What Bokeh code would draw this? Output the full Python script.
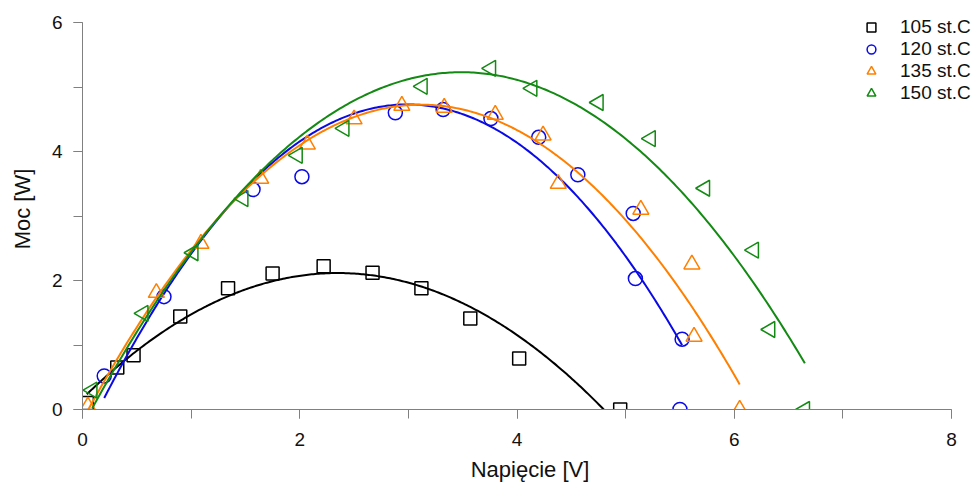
import math
import numpy as np
from bokeh.plotting import figure
from bokeh.models import (Range1d, SingleIntervalTicker, Legend, LegendItem)
from bokeh.embed import file_html
from bokeh.resources import INLINE

# ---- data ----
series_names = ["105 st.C", "120 st.C", "135 st.C", "150 st.C"]

v105 = [0.04, 0.32, 0.47, 0.90, 1.34, 1.75, 2.22, 2.67, 3.12, 3.57, 4.02, 4.95]
p105 = [0.10, 0.65, 0.84, 1.44, 1.88, 2.11, 2.22, 2.12, 1.88, 1.41, 0.79, 0.00]

v120 = [0.20, 0.75, 1.57, 2.02, 2.88, 3.32, 3.76, 4.20, 4.56, 5.07, 5.09, 5.52, 5.50]
p120 = [0.52, 1.75, 3.41, 3.61, 4.60, 4.65, 4.51, 4.22, 3.64, 3.04, 2.03, 1.09, 0.00]

v135 = [0.05, 0.68, 1.09, 1.64, 2.07, 2.50, 2.94, 3.33, 3.80, 4.24, 4.38, 5.14, 5.61, 5.63, 6.05]
p135 = [0.05, 1.81, 2.57, 3.58, 4.11, 4.50, 4.71, 4.68, 4.57, 4.25, 3.50, 3.10, 2.25, 1.13, 0.00]

v150 = [0.09, 0.56, 1.02, 1.48, 1.98, 2.41, 3.13, 3.76, 4.14, 4.75, 5.23, 5.73, 6.18, 6.33, 6.65]
p150 = [0.30, 1.49, 2.43, 3.27, 3.94, 4.36, 5.01, 5.29, 4.98, 4.76, 4.20, 3.43, 2.47, 1.24, 0.00]

x_ticks = [0, 2, 4, 6, 8]
y_ticks = [0, 2, 4, 6]

colors = ["#000000", "#0a0ae6", "#ff8000", "#138a13"]
markers = ["square", "circle", "triangle", "triangle"]
angles = [0, 0, 0, math.pi / 2]
sizes = [13, 14, 16, 16]

FONT = "Liberation Sans"

FRAME_W = 895
FRAME_H = 401
PX_PER_X = 869 / 8.0
PX_PER_Y = 387 / 6.0

p = figure(width=977, height=482, output_backend="svg", toolbar_location=None,
           x_range=Range1d(0, FRAME_W / PX_PER_X),
           y_range=Range1d(0, FRAME_H / PX_PER_Y),
           frame_width=FRAME_W, frame_height=FRAME_H,
           min_border_left=82, min_border_right=0, min_border_top=8,
           min_border_bottom=73)
p.outline_line_color = None
p.grid.visible = False
p.background_fill_color = "white"
p.border_fill_color = "white"

for ax, ticks in ((p.xaxis, x_ticks), (p.yaxis, y_ticks)):
    ax.ticker = SingleIntervalTicker(interval=ticks[1] - ticks[0], num_minor_ticks=2)
    ax.bounds = (ticks[0], ticks[-1])
    ax.axis_line_color = "#808080"
    ax.major_tick_line_color = "#808080"
    ax.minor_tick_line_color = "#808080"
    ax.major_tick_in = 0
    ax.minor_tick_in = 0
    ax.major_tick_out = 9
    ax.minor_tick_out = 9
    ax.major_label_text_font = FONT
    ax.major_label_text_font_size = "19px"
    ax.major_label_text_color = "#111111"
    ax.axis_label_text_font = FONT
    ax.axis_label_text_font_size = "22px"
    ax.axis_label_text_font_style = "normal"
    ax.axis_label_text_color = "#111111"

p.xaxis.axis_label = "Napięcie [V]"
p.yaxis.axis_label = "Moc [W]"
p.xaxis.major_label_standoff = 14
p.xaxis.axis_label_standoff = 8
p.yaxis.major_label_standoff = 11
p.yaxis.axis_label_standoff = 14


def fit(x, y, deg=2):
    x = np.asarray(x)
    y = np.asarray(y)
    c = np.polyfit(x, y, deg)
    xs = np.linspace(x.min(), x.max(), 300)
    return xs, np.polyval(c, xs)


items = []
for name, xv, yv, col, mk, ang, sz in zip(series_names, [v105, v120, v135, v150],
                                          [p105, p120, p135, p150], colors, markers,
                                          angles, sizes):
    xs, ys = fit(xv, yv)
    p.line(xs, ys, line_color=col, line_width=2)
    r = p.scatter(xv, yv, marker=mk, size=sz, angle=ang, fill_color=None,
                  line_color=col, line_width=1.5)
    items.append(LegendItem(label=name, renderers=[r]))

legend = Legend(items=items, location=(773, 305), padding=0, margin=0,
                glyph_width=32, glyph_height=22, spacing=0, label_standoff=13,
                label_height=22,
                label_text_font=FONT, label_text_font_size="19px",
                label_text_color="#111111", background_fill_alpha=0,
                border_line_color=None)
p.add_layout(legend)

open("out.html", "w").write(file_html(p, INLINE))
